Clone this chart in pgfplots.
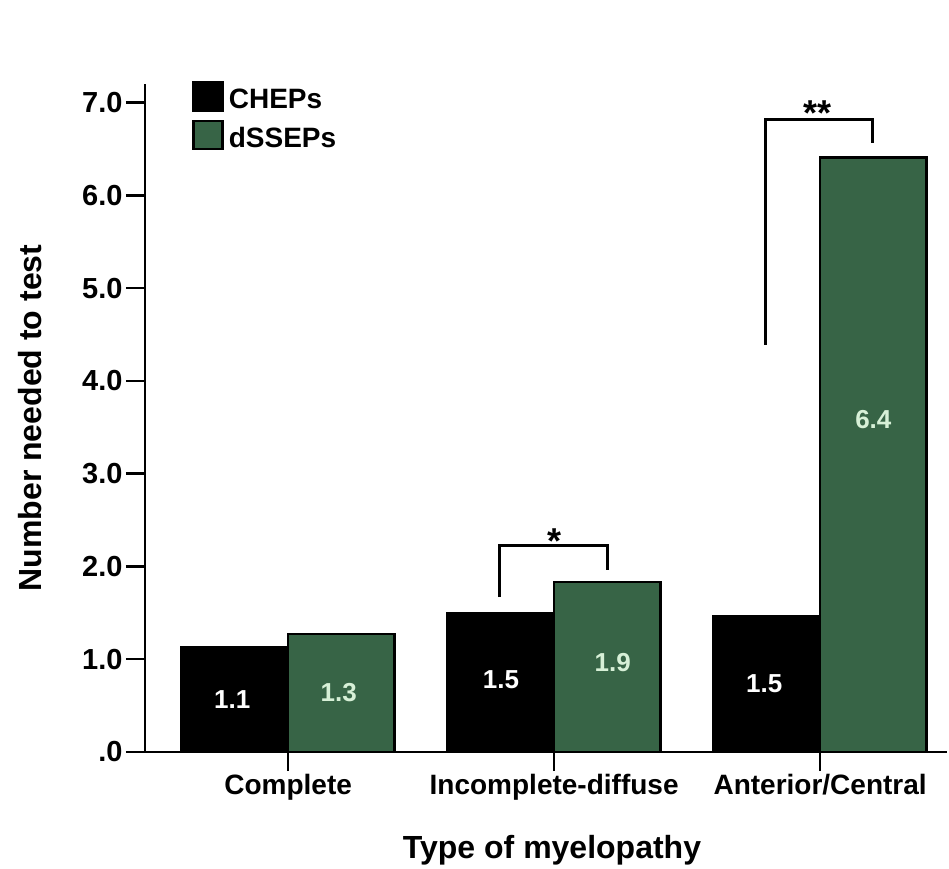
\documentclass[border=0pt]{standalone}
\usepackage{fontspec}
\setmainfont{Liberation Sans}
\usepackage{pgfplots}
\pgfplotsset{compat=1.18}
\definecolor{dgreen}{RGB}{55,100,70}
\definecolor{lgreen}{RGB}{215,240,215}
\pgfplotsset{mylegend/.style={legend image code/.code={\draw[##1, line width=2.5pt] (0pt,-14pt) rectangle (29pt,14pt);}}}
\begin{document}
\begin{tikzpicture}[x=1pt,y=1pt]
\path[use as bounding box, fill=white] (0,0) rectangle (949,868);
\begin{axis}[
  at={(145pt,116pt)}, anchor=south west,
  scale only axis, width=802pt, height=668pt,
  xmin=-0.538, xmax=2.477, ymin=0, ymax=7.2,
  clip=false,
  axis x line*=bottom, axis y line*=left,
  axis line style={line width=2.5pt, black},
  xtick={0,1,2}, xticklabels={Complete,Incomplete-diffuse,Anterior/Central},
  ytick={0,1,2,3,4,5,6,7}, yticklabels={.0,1.0,2.0,3.0,4.0,5.0,6.0,7.0},
  tick align=outside, major tick length=19pt,
  major tick style={line width=2.5pt, black},
  xticklabel style={font=\fontsize{28}{30}\selectfont\bfseries},
  yticklabel style={font=\fontsize{29}{30}\selectfont\bfseries},
  xlabel={Type of myelopathy}, ylabel={Number needed to test},
  xlabel style={at={(axis description cs:0.5075,-0.160)}, anchor=base, font=\fontsize{32}{34}\selectfont\bfseries},
  ylabel style={at={(axis description cs:-0.1434,0.5)}, anchor=center, font=\fontsize{32}{34}\selectfont\bfseries},
  bar width=0.4,
  legend style={at={(axis description cs:0.059,1.004)}, anchor=north west, draw=none, fill=none,
    inner sep=0pt, outer sep=0pt, row sep=8pt, column sep=5pt,
    font=\fontsize{28}{30}\selectfont\bfseries, nodes={inner sep=0pt, anchor=west, yshift=-3pt}},
  legend cell align=left,
]
\addplot[ybar, bar shift=0pt, fill=black, draw=black, line width=2.5pt, mylegend]
  coordinates {(-0.2,1.13) (0.8,1.50) (1.8,1.46)};
\addlegendentry{CHEPs}
\addplot[ybar, bar shift=0pt, fill=dgreen, draw=black, line width=2.5pt, mylegend]
  coordinates {(0.2,1.27) (1.2,1.83) (2.2,6.41)};
\addlegendentry{dSSEPs}
% value labels
\begin{scope}[every node/.style={font=\fontsize{26}{28}\selectfont\bfseries}]
\node[white] at (axis cs:-0.21,0.57) {1.1};
\node[lgreen] at (axis cs:0.19,0.64) {1.3};
\node[white] at (axis cs:0.8,0.78) {1.5};
\node[lgreen] at (axis cs:1.22,0.96) {1.9};
\node[white] at (axis cs:1.79,0.74) {1.5};
\node[lgreen] at (axis cs:2.2,3.58) {6.4};
\end{scope}
% significance brackets
\draw[line width=3pt] (axis cs:0.793,1.67) -- (axis cs:0.793,2.23) -- (axis cs:1.2,2.23) -- (axis cs:1.2,1.96);
\node[anchor=base, font=\fontsize{36}{38}\selectfont\bfseries] at (axis cs:1.0,2.14) {*};
\draw[line width=3pt] (axis cs:1.793,4.39) -- (axis cs:1.793,6.82) -- (axis cs:2.196,6.82) -- (axis cs:2.196,6.56);
\node[anchor=base, font=\fontsize{36}{38}\selectfont\bfseries] at (axis cs:1.99,6.75) {**};
\end{axis}
\end{tikzpicture}
\end{document}
